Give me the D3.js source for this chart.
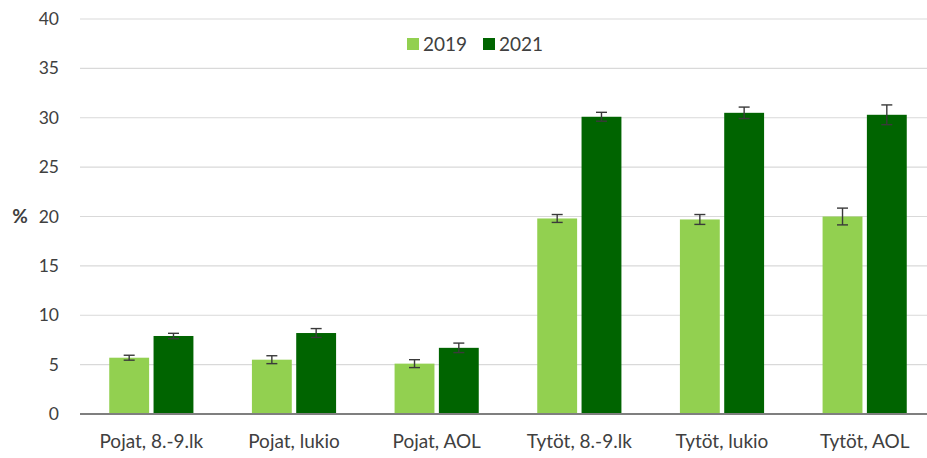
<!DOCTYPE html>
<html>
<head>
<meta charset="utf-8">
<script src="https://cdn.jsdelivr.net/npm/d3@7"></script>
<style>
  body { margin: 0; background: #fff; }
  svg { display: block; font-family: Lato, "Open Sans", sans-serif; }
</style>
</head>
<body>
<svg></svg>
<script>
// categories and series
var categories = ['Pojat, 8.-9.lk', 'Pojat, lukio', 'Pojat, AOL', 'Tytöt, 8.-9.lk', 'Tytöt, lukio', 'Tytöt, AOL']
var years = ['2019', '2021']
var values2019 = [5.7, 5.5, 5.1, 19.8, 19.7, 20.0]
var values2021 = [7.9, 8.2, 6.7, 30.1, 30.5, 30.3]
// half-width of the error bars
var err2019 = [0.25, 0.4, 0.4, 0.4, 0.5, 0.85]
var err2021 = [0.27, 0.45, 0.48, 0.45, 0.58, 1.0]
var yTicks = [0, 5, 10, 15, 20, 25, 30, 35, 40]

var colors = { '2019': '#92d050', '2021': '#006400' }
var textColor = '#404040'

var width = 927
var height = 458

var svg = d3.select('svg').attr('width', width).attr('height', height)

var x0 = d3.scaleBand()
  .domain(categories)
  .range([80, 936])
  .paddingInner(0.41)
  .paddingOuter(0.205)

var x1 = d3.scaleBand()
  .domain(years)
  .range([0, x0.bandwidth()])
  .paddingInner(0.1)

var y = d3.scaleLinear().domain([0, 40]).range([414, 19])

// gridlines
svg.append('g')
  .selectAll('line')
  .data(yTicks.filter(function (t) { return t > 0 }))
  .enter().append('line')
    .attr('x1', 80)
    .attr('x2', width)
    .attr('y1', function (t) { return y(t) })
    .attr('y2', function (t) { return y(t) })
    .attr('stroke', '#d9d9d9')
    .attr('stroke-width', 1.2)

// y axis labels
var yAxis = svg.append('g')
  .attr('transform', 'translate(59,0)')
  .call(d3.axisLeft(y).tickValues(yTicks).tickSize(0).tickPadding(0))
yAxis.select('.domain').remove()
yAxis.selectAll('text')
  .attr('font-size', 17.5)
  .attr('font-family', 'Lato, "Open Sans", sans-serif')
  .attr('fill', textColor)

svg.append('text')
  .attr('x', 20)
  .attr('y', y(20))
  .attr('dy', '0.35em')
  .attr('text-anchor', 'middle')
  .attr('font-size', 19)
  .attr('font-weight', 'bold')
  .attr('fill', textColor)
  .text('%')

// bars
var rows = categories.map(function (c, i) {
  return [
    { cat: c, year: '2019', value: values2019[i], err: err2019[i] },
    { cat: c, year: '2021', value: values2021[i], err: err2021[i] }
  ]
})

var groups = svg.append('g')
  .selectAll('g')
  .data(rows)
  .enter().append('g')
    .attr('transform', function (d) { return 'translate(' + x0(d[0].cat) + ',0)' })

groups.selectAll('rect')
  .data(function (d) { return d })
  .enter().append('rect')
    .attr('x', function (d) { return x1(d.year) })
    .attr('width', x1.bandwidth())
    .attr('y', function (d) { return y(d.value) })
    .attr('height', function (d) { return y(0) - y(d.value) })
    .attr('fill', function (d) { return colors[d.year] })

// error bars
var errs = groups.selectAll('g.err')
  .data(function (d) { return d })
  .enter().append('g')
    .attr('class', 'err')
    .attr('stroke', '#3a3a3a')
    .attr('stroke-width', 1.4)

errs.append('line')
  .attr('x1', function (d) { return x1(d.year) + x1.bandwidth() / 2 })
  .attr('x2', function (d) { return x1(d.year) + x1.bandwidth() / 2 })
  .attr('y1', function (d) { return y(d.value + d.err) })
  .attr('y2', function (d) { return y(d.value - d.err) })

errs.selectAll('line.cap')
  .data(function (d) { return [d.value + d.err, d.value - d.err].map(function (v) { return { year: d.year, v: v } }) })
  .enter().append('line')
    .attr('class', 'cap')
    .attr('x1', function (d) { return x1(d.year) + x1.bandwidth() / 2 - 5.5 })
    .attr('x2', function (d) { return x1(d.year) + x1.bandwidth() / 2 + 5.5 })
    .attr('y1', function (d) { return y(d.v) })
    .attr('y2', function (d) { return y(d.v) })

// baseline
svg.append('line')
  .attr('x1', 80)
  .attr('x2', width)
  .attr('y1', y(0))
  .attr('y2', y(0))
  .attr('stroke', '#7f7f7f')
  .attr('stroke-width', 2)

// x axis labels
var xAxis = svg.append('g')
  .attr('transform', 'translate(0,' + y(0) + ')')
  .call(d3.axisBottom(x0).tickSize(0).tickPadding(21))
xAxis.select('.domain').remove()
xAxis.selectAll('text')
  .attr('font-size', 19)
  .attr('font-family', 'Lato, "Open Sans", sans-serif')
  .attr('fill', textColor)

// legend
var legend = svg.append('g')
  .selectAll('g')
  .data(years)
  .enter().append('g')
    .attr('transform', function (d, i) { return 'translate(' + (407 + i * 76) + ',38)' })

legend.append('rect')
  .attr('width', 12)
  .attr('height', 12)
  .attr('fill', function (d) { return colors[d] })

legend.append('text')
  .attr('x', 16)
  .attr('y', 6)
  .attr('dy', '0.35em')
  .attr('font-size', 19)
  .attr('fill', textColor)
  .text(function (d) { return d })
</script>
</body>
</html>
